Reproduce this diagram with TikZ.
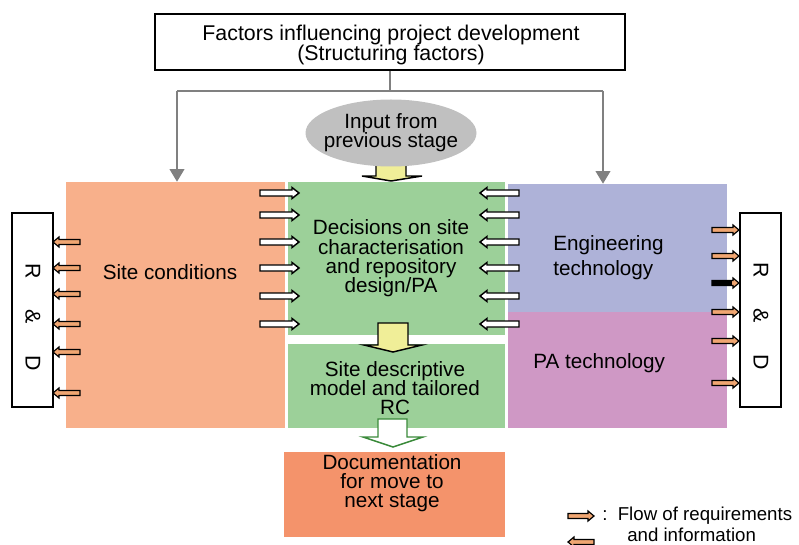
\documentclass[tikz,border=0pt]{standalone}
\usepackage{fontspec}
\setmainfont{Liberation Sans}
\usetikzlibrary{arrows.meta,shapes.geometric}
\definecolor{siteC}{HTML}{F8B08B}
\definecolor{decC}{HTML}{9CD099}
\definecolor{engC}{HTML}{AEB2D8}
\definecolor{paC}{HTML}{CF98C5}
\definecolor{docC}{HTML}{F4936B}
\definecolor{ellC}{HTML}{C0C0C0}
\definecolor{yelC}{HTML}{F0EE98}
\definecolor{lineG}{HTML}{808080}
\definecolor{oraC}{HTML}{F0A672}
\definecolor{grnL}{HTML}{3A8A3A}
\tikzset{
  pics/barrow/.style n args={4}{code={%
    \path[pic actions] (0,-#2) -- ({#1-#4},-#2) -- ({#1-#4},-#3) -- (#1,0) -- ({#1-#4},#3) -- ({#1-#4},#2) -- (0,#2) -- cycle;}},
  area/.style={rectangle, inner sep=0, draw=none},
  txt/.style={font=\fontsize{15.5}{14.5}\selectfont, align=center, inner sep=0},
  rdbox/.style={rectangle, draw=black, fill=white, line width=1.1pt, inner sep=0},
  rdtxt/.style={font=\fontsize{16}{18}\selectfont, inner sep=0, rotate=-90},
  conn/.style={draw=lineG, line width=1.5pt},
  connarr/.style={conn, -{Triangle[width=11pt,length=9.5pt]}},
  warr/.style={draw=black, fill=white, line width=1.1pt, line join=miter},
  oarr/.style={draw=black, fill=oraC, line width=0.9pt, line join=miter},
  yarr/.style={draw=black, fill=yelC, line width=1.1pt, line join=miter},
  garr/.style={draw=grnL, fill=white, line width=1.1pt, line join=miter},
}
\begin{document}
\begin{tikzpicture}[x=0.75pt,y=-0.75pt]
\useasboundingbox (0,0) rectangle (799,545);
% top box
\node[rectangle, draw=black, line width=1.1pt, fill=white, minimum width=352.5pt, minimum height=42pt, inner sep=0] (top) at (390,42) {};
\node[txt, font=\fontsize{16}{15.5}\selectfont] (topT) at (391,45) {Factors influencing project development\\(Structuring factors)};
% yellow input arrow (under ellipse and boxes)
\draw[yarr] (376,160) -- (376,176) -- (362,176) -- (391,181) -- (422,176) -- (406,176) -- (406,160) -- cycle;
% coloured areas
\node[area, fill=siteC, minimum width=164.25pt, minimum height=184.5pt] (site) at (175.5,305) {};
\node[area, fill=decC, minimum width=162.75pt, minimum height=114.75pt] (dec) at (396.5,258.5) {};
\node[area, fill=decC, minimum width=162.75pt, minimum height=63pt] (sdm) at (396.5,386) {};
\node[area, fill=engC, minimum width=164.25pt, minimum height=96pt] (eng) at (617.5,248) {};
\node[area, fill=paC, minimum width=164.25pt, minimum height=87pt] (pa) at (617.5,370) {};
\node[area, fill=docC, minimum width=165.75pt, minimum height=63.75pt] (doc) at (394.5,494.5) {};
% ellipse
\node[ellipse, fill=ellC, minimum width=128.25pt, minimum height=50.25pt, inner sep=0] (inp) at (391,133) {};
\node[txt] (inpT) at (391,133) {Input from\\previous stage};
% connectors from the top box
\coordinate (jl) at (177,91);
\coordinate (jr) at (603,91);
\draw[conn] (top.south) -- (top.south |- jl);
\draw[conn] (jl) -- (jr);
\draw[connarr] (jl) -- (jl |- site.north);
\draw[connarr] (jr) -- (jr |- eng.north);
% texts
\node[txt] (siteT) at (170,272) {Site conditions};
\node[txt] (decT) at (391,258.5) {Decisions on site\\characterisation\\and repository\\design/PA};
\node[txt] (sdmT) at (395,388) {Site descriptive\\model and tailored\\RC};
\node[txt, align=left, anchor=west, font=\fontsize{15.5}{18.75}\selectfont] (engT) at (553,257.5) {Engineering\\technology};
\node[txt, anchor=west] (paT) at (533,363) {PA technology};
\node[txt] (docT) at (392,483) {Documentation\\for move to\\next stage};
% R & D boxes
\node[rdbox, minimum width=30.75pt, minimum height=145.5pt] (rdL) at (32.5,310) {};
\node[rdtxt] (rdLT) at (33,317) {R\hspace{23pt}\&\hspace{24pt}D};
\node[rdbox, minimum width=30.75pt, minimum height=145.5pt] (rdR) at (760.5,310) {};
\node[rdtxt] (rdRT) at (761,316) {R\hspace{23pt}\&\hspace{24pt}D};
% white arrows
\foreach \yy in {193,215,242,268,296,324} {
  \pic[warr] at (260,\yy) {barrow={39}{3}{5.5}{7}};
  \pic[warr, xscale=-1] at (519,\yy) {barrow={39}{3}{5.5}{7}};
}
% orange arrows
\foreach \yy in {242,268,294,324,352,393} {
  \pic[oarr, xscale=-1] at (80,\yy) {barrow={27}{2.5}{5}{6}};
}
\foreach \yy in {230,256,283,312,341,383} {
  \pic[oarr] at (712,\yy) {barrow={27}{2.5}{5}{6}};
}
\fill[black] (712,281) rectangle (732,285);
% big block arrows
\draw[yarr] (378,323) -- (378,345) -- (364,345) -- (393,352) -- (422,345) -- (408,345) -- (408,323) -- cycle;
\draw[garr] (378,419) -- (378,437) -- (363,437) -- (393,447) -- (423,437) -- (407,437) -- (407,419) -- cycle;
% legend
\pic[oarr] at (568,516) {barrow={26}{2.5}{5}{6}};
\pic[oarr, xscale=-1] at (594,542) {barrow={26}{2.5}{5}{6}};
\node[inner sep=0, anchor=west, font=\fontsize{14}{15}\selectfont] (legT1) at (602,516) {:\ \ Flow of requirements};
\node[inner sep=0, anchor=west, font=\fontsize{14}{15}\selectfont] (legT2) at (627,535) {and information};
\end{tikzpicture}
\end{document}
